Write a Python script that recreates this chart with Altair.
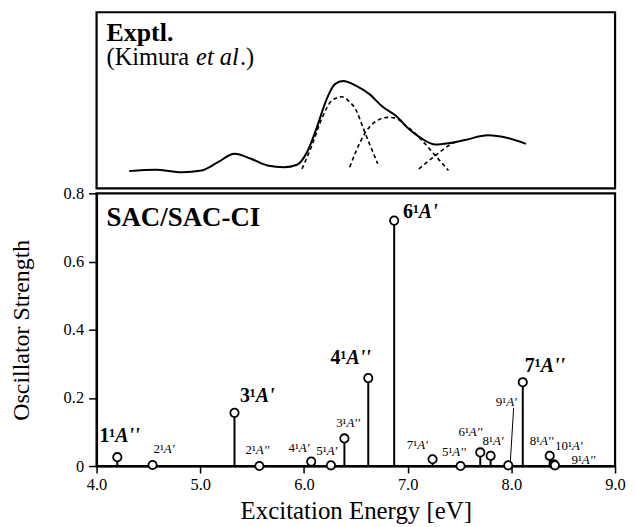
import altair as alt
import pandas as pd

# ---- SAC/SAC-CI stick spectrum ----
states_num = ["1¹", "2¹", "3¹", "2¹", "4¹", "5¹", "3¹", "4¹", "6¹",
              "7¹", "5¹", "6¹", "8¹", "9¹", "7¹", "8¹", "10¹", "9¹"]
states_sym = ["A''", "A'", "A'", "A''", "A'", "A'", "A''", "A''", "A'",
              "A'", "A''", "A''", "A'", "A'", "A''", "A''", "A'", "A''"]
energy = [4.20, 4.54, 5.33, 5.57, 6.07, 6.26, 6.39, 6.62, 6.87,
          7.24, 7.51, 7.70, 7.80, 7.97, 8.11, 8.37, 8.41, 8.42]
strength = [0.026, 0.003, 0.156, 0.0, 0.013, 0.002, 0.081, 0.258, 0.72,
            0.02, 0.0, 0.04, 0.03, 0.002, 0.246, 0.03, 0.005, 0.002]
major = [True, False, True, False, False, False, False, True, True,
         False, False, False, False, False, True, False, False, False]
# label anchors (energy, strength) where the italic "A" begins
label_e = [4.181, 4.648, 5.536, 5.536, 5.950, 6.219, 6.410, 6.410, 7.108,
           7.092, 7.431, 7.590, 7.822, 7.950, 8.283, 8.276, 8.584, 8.679]
label_f = [0.070, 0.037, 0.189, 0.034, 0.040, 0.031, 0.115, 0.299, 0.729,
           0.050, 0.029, 0.087, 0.063, 0.177, 0.277, 0.063, 0.046, 0.006]

# leader line from the 9¹A' label to its stick
leader_e = [8.022, 7.990]
leader_f = [0.171, 0.012]

# ---- Experimental spectrum (Kimura et al.) ----
exp_e = [4.314, 4.569, 4.822, 5.012, 5.171, 5.330, 5.489, 5.648, 5.807, 5.933,
         6.029, 6.124, 6.219, 6.298, 6.378, 6.505, 6.631, 6.759, 6.886, 7.012,
         7.140, 7.267, 7.393, 7.552, 7.774, 7.965, 8.140]
exp_i = [0.098, 0.106, 0.092, 0.102, 0.149, 0.196, 0.168, 0.130, 0.120, 0.134,
         0.205, 0.346, 0.507, 0.592, 0.610, 0.582, 0.535, 0.463, 0.412, 0.337,
         0.281, 0.249, 0.256, 0.275, 0.301, 0.286, 0.253]

comp1_e = [5.981, 6.076, 6.171, 6.267, 6.362, 6.429, 6.505, 6.569, 6.619, 6.667, 6.711]
comp1_i = [0.111, 0.243, 0.395, 0.497, 0.520, 0.497, 0.441, 0.346, 0.271, 0.203, 0.140]
comp2_e = [6.441, 6.505, 6.584, 6.676, 6.807, 6.886, 6.981, 7.076, 7.140, 7.267, 7.393]
comp2_i = [0.120, 0.215, 0.309, 0.373, 0.403, 0.398, 0.356, 0.311, 0.271, 0.186, 0.102]
comp3_e = [7.108, 7.267, 7.426, 7.476]
comp3_i = [0.111, 0.186, 0.253, 0.266]

FONT = "Liberation Serif"
W = 521

sticks = pd.DataFrame({"e": energy, "f": strength, "num": states_num,
                       "sym": states_sym, "major": major,
                       "le": label_e, "lf": label_f})
leader = pd.DataFrame({"e": [leader_e[0]], "f": [leader_f[0]],
                       "e2": [leader_e[1]], "f2": [leader_f[1]]})

xs = alt.Scale(domain=[4.0, 9.0], nice=False, zero=False)
ys = alt.Scale(domain=[0, 0.8], nice=False)

xenc = alt.X("e:Q", scale=xs, axis=alt.Axis(
    title="Excitation Energy [eV]", values=[4, 5, 6, 7, 8, 9], format=".1f",
    grid=False, tickSize=7, tickWidth=1.5, domainWidth=2, labelPadding=4,
    labelFontSize=16.5, titleFontSize=25, titlePadding=5, titleFontWeight="normal",
    labelFlush=False))
yenc = alt.Y("f:Q", scale=ys, axis=alt.Axis(
    title="Oscillator Strength", values=[0, 0.2, 0.4, 0.6, 0.8],
    labelExpr="datum.value == 0 ? '0' : format(datum.value, '.1f')",
    grid=False, tickSize=8, tickWidth=1.5, domainWidth=2, labelPadding=5,
    labelFontSize=16.5, titleFontSize=24, titlePadding=30, titleFontWeight="normal",
    labelFlush=False))

base = alt.Chart(sticks)
rules = base.mark_rule(color="black", strokeWidth=2).encode(
    x=xenc, y=yenc, y2=alt.Y2(datum=0))
dots = base.mark_point(shape="circle", filled=True, fill="white", stroke="black",
                       strokeWidth=1.8, size=70, opacity=1).encode(x="e:Q", y="f:Q")

big = base.transform_filter("datum.major")
small = base.transform_filter("!datum.major")
big_num = big.mark_text(font=FONT, fontSize=20, fontWeight="bold", align="right",
                        baseline="alphabetic", color="black").encode(
    x="le:Q", y="lf:Q", text="num:N")
big_sym = big.mark_text(font=FONT, fontSize=20, fontWeight="bold", fontStyle="italic",
                        align="left", baseline="alphabetic", color="black").encode(
    x="le:Q", y="lf:Q", text="sym:N")
small_num = small.mark_text(font=FONT, fontSize=13, align="right",
                            baseline="alphabetic", color="black").encode(
    x="le:Q", y="lf:Q", text="num:N")
small_sym = small.mark_text(font=FONT, fontSize=13, fontStyle="italic", align="left",
                            baseline="alphabetic", color="black").encode(
    x="le:Q", y="lf:Q", text="sym:N")
lead = alt.Chart(leader).mark_rule(color="black", strokeWidth=1).encode(
    x="e:Q", y="f:Q", x2="e2:Q", y2="f2:Q")
sac_title = alt.Chart(pd.DataFrame({"t": ["SAC/SAC-CI"]})).mark_text(
    font=FONT, fontSize=27, fontWeight="bold", align="left", baseline="alphabetic",
    color="black").encode(x=alt.value(10), y=alt.value(33), text="t:N")

bottom = alt.layer(rules, dots, lead, big_num, big_sym, small_num, small_sym,
                   sac_title).properties(width=W, height=274)

# ---- top panel ----
exp_df = pd.DataFrame({"e": exp_e, "i": exp_i})
comp_df = pd.concat([
    pd.DataFrame({"e": comp1_e, "i": comp1_i, "c": "1"}),
    pd.DataFrame({"e": comp2_e, "i": comp2_i, "c": "2"}),
    pd.DataFrame({"e": comp3_e, "i": comp3_i, "c": "3"}),
])
txs = alt.Scale(domain=[4.0, 9.0], nice=False, zero=False)
tys = alt.Scale(domain=[0, 1], nice=False)
solid = alt.Chart(exp_df).mark_line(color="black", strokeWidth=2,
                                    interpolate="monotone").encode(
    x=alt.X("e:Q", scale=txs, axis=None), y=alt.Y("i:Q", scale=tys, axis=None))
dashed = alt.Chart(comp_df).mark_line(color="black", strokeWidth=1.6,
                                      strokeDash=[4, 3], interpolate="monotone").encode(
    x="e:Q", y="i:Q", detail="c:N")
t1 = alt.Chart(pd.DataFrame({"t": ["Exptl."]})).mark_text(
    font=FONT, fontSize=26, fontWeight="bold", align="left", baseline="alphabetic",
    color="black").encode(x=alt.value(10), y=alt.value(29), text="t:N")
t2 = alt.Chart(pd.DataFrame({"t": ["(Kimura"]})).mark_text(
    font=FONT, fontSize=24.5, align="left", baseline="alphabetic",
    color="black").encode(x=alt.value(10), y=alt.value(53), text="t:N")
t3 = alt.Chart(pd.DataFrame({"t": ["et al"]})).mark_text(
    font=FONT, fontSize=24.5, fontStyle="italic", align="left", baseline="alphabetic",
    color="black").encode(x=alt.value(100), y=alt.value(53), text="t:N")
t4 = alt.Chart(pd.DataFrame({"t": [".)"]})).mark_text(
    font=FONT, fontSize=24.5, align="left", baseline="alphabetic",
    color="black").encode(x=alt.value(144), y=alt.value(53), text="t:N")
top = alt.layer(solid, dashed, t1, t2, t3, t4).properties(width=W, height=177)

chart = alt.vconcat(top, bottom, spacing=5, bounds="flush").properties(
    padding={"left": 0, "top": 1, "right": 0, "bottom": 0}
).configure_view(stroke="black", strokeWidth=2.2).configure_axis(
    labelFont=FONT, titleFont=FONT, labelColor="black", titleColor="black",
    domainColor="black", tickColor="black")

chart.save("out.html", embed_options={"renderer": "svg", "actions": False})
